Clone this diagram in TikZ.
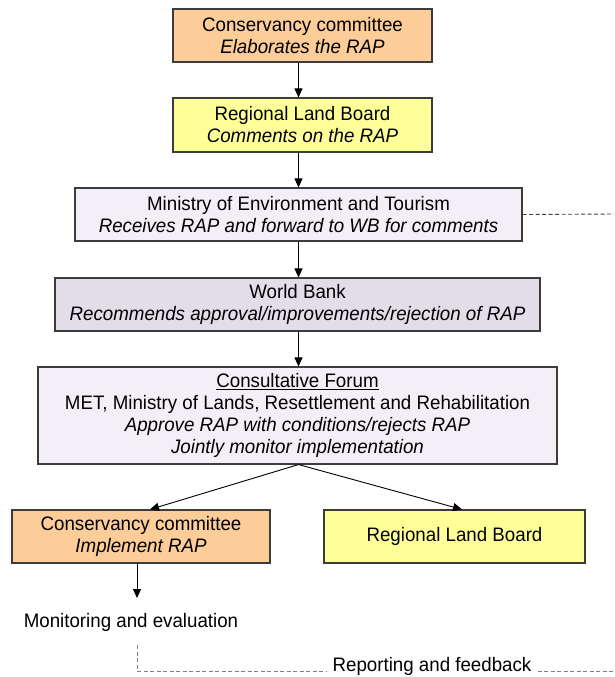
\documentclass[tikz,border=0pt]{standalone}
\usepackage{fontspec}
\setmainfont[FakeStretch=0.96]{Liberation Sans}
\usetikzlibrary{arrows.meta,calc}
\definecolor{corange}{RGB}{252,204,153}
\definecolor{cyellow}{RGB}{255,255,153}
\definecolor{clav}{RGB}{244,239,247}
\definecolor{cgrey}{RGB}{226,221,231}
\definecolor{cline}{RGB}{60,60,60}
\tikzset{
  box/.style={draw=cline,line width=1.1pt,inner sep=0pt,align=center,
    font=\fontsize{19.5}{22}\selectfont},
  arr/.style={-{Triangle[length=9pt,width=8pt]},line width=0.9pt,black},
  dsh/.style={dash pattern=on 4pt off 2.5pt,line width=0.9pt},
  lbl/.style={inner sep=0pt,font=\fontsize{19.5}{22}\selectfont}
}
\begin{document}
\begin{tikzpicture}[x=1pt,y=-1pt]
\useasboundingbox (0,0) rectangle (614,677);
\node[box,fill=corange,minimum width=259pt,minimum height=53pt] (b1) at (302.5,35.5)
  {Conservancy committee\\\textit{Elaborates the RAP}};
\node[box,fill=cyellow,minimum width=259pt,minimum height=54pt] (b2) at (302.5,125)
  {Regional Land Board\\\textit{Comments on the RAP}};
\node[box,fill=clav,minimum width=447pt,minimum height=53pt] (b3) at (298.5,214.5)
  {Ministry of Environment and Tourism\\\textit{Receives RAP and forward to WB for comments}};
\node[box,fill=cgrey,minimum width=485pt,minimum height=53pt] (b4) at (297.5,304.5)
  {World Bank\\\textit{Recommends approval/improvements/rejection of RAP}};
\node[box,fill=clav,minimum width=519pt,minimum height=97pt] (b5) at (297.5,415.5)
  {\underline{Consultative Forum}\\MET, Ministry of Lands, Resettlement and Rehabilitation\\
   \textit{Approve RAP with conditions/rejects RAP}\\\textit{Jointly monitor implementation}};
\node[box,fill=corange,minimum width=258pt,minimum height=53pt] (b6) at (141,536.5)
  {Conservancy committee\\\textit{Implement RAP}};
\node[box,fill=cyellow,minimum width=261pt,minimum height=53pt] (b7) at (454.5,536.5)
  {Regional Land Board};
\node[lbl] (m) at (131,622) {Monitoring and evaluation};
\node[lbl,inner xsep=6pt] (r) at (432,666) {Reporting and feedback};
\coordinate (mtip) at (137,598);
\coordinate (d1) at (137,645);
\coordinate (d2) at (137,671);
\coordinate (e1) at (614,214);
\coordinate (e2) at (614,671);

\draw[arr] (b1.south -| b3.north) -- (b2.north -| b3.north);
\draw[arr] (b2.south -| b3.north) -- (b3.north);
\draw[arr] (b3.south) -- (b4.north -| b3.south);
\draw[arr] (b4.south -| b3.south) -- (b5.north -| b3.south);
\draw[arr] (b5.south -| b3.south) -- ($(b6.north)+(9,0)$);
\draw[arr] (b5.south -| b3.south) -- ($(b7.north)+(7.5,0)$);
\draw[arr] (b6.south -| mtip) -- (mtip);
\draw[dsh,black!75] (b3.east) -- (e1);
\draw[dsh,gray] (d1) -- (d2) -- (r.west |- d2);
\draw[dsh,gray] (r.east |- d2) -- (e2);
\end{tikzpicture}
\end{document}
